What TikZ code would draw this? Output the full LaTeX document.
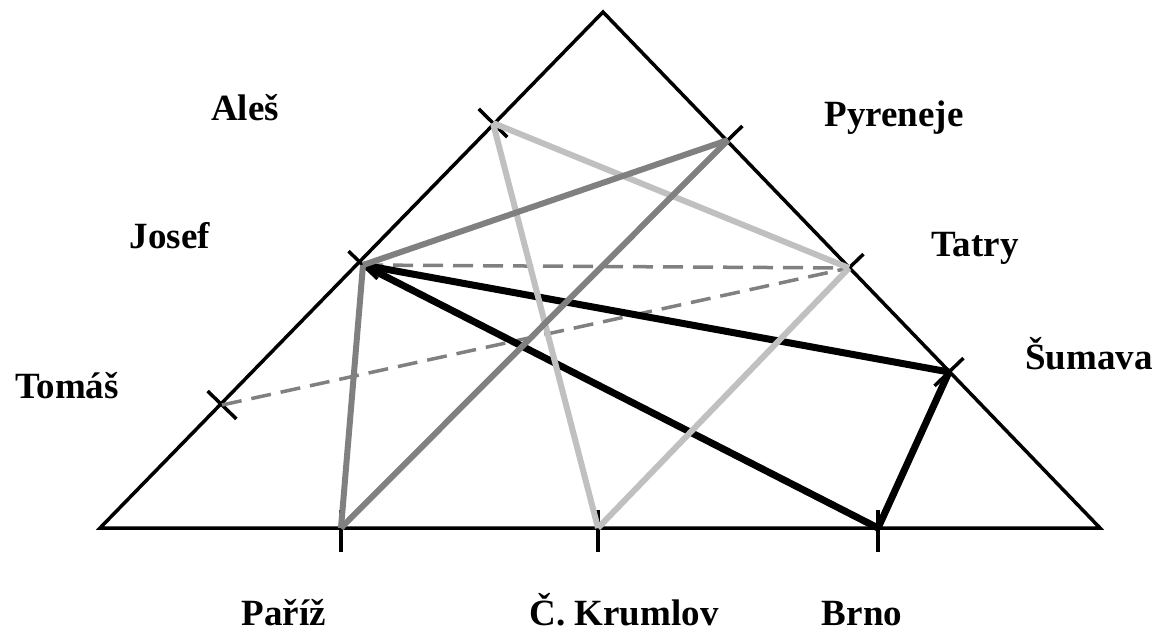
\documentclass[tikz,border=0pt]{standalone}
\usepackage{fontspec}
\setmainfont{Liberation Serif}
\usetikzlibrary{calc}
\definecolor{lgray}{HTML}{C0C0C0}
\definecolor{mgray}{HTML}{808080}
\tikzset{
  side/.style={line width=3.5pt, black},
  tickmark/.style={line width=3.5pt, black},
  lightline/.style={line width=6pt, lgray},
  midline/.style={line width=6pt, mgray},
  blackline/.style={line width=7pt, black},
  dashline/.style={line width=3.5pt, mgray, dash pattern=on 20pt off 10pt},
  lbl/.style={font=\fontsize{37}{40}\selectfont\bfseries, inner sep=0pt, anchor=base}
}
\begin{document}
\begin{tikzpicture}[x=1pt,y=-1pt]
\useasboundingbox (0,0) rectangle (1159,640);
% triangle vertices
\coordinate (L) at (100,528);
\coordinate (R) at (1100,528);
\coordinate (T) at (603,12);
% points on sides
\coordinate (ales) at (493,123);
\coordinate (josef) at (363,265);
\coordinate (tomas) at (222,405);
\coordinate (pyr) at (728,140);
\coordinate (tatry) at (849,268);
\coordinate (sum) at (949,372);
\coordinate (pariz) at (341,528);
\coordinate (krum) at (598,528);
\coordinate (brno) at (878,528);
% triangle
\draw[side] (L) -- (T) -- (R) -- cycle;
% ticks
\foreach \p in {ales,josef,tomas,pyr,tatry,sum}{
  \draw[tickmark] ($(\p)!20pt!90:(T)$) -- ($(\p)!20pt!-90:(T)$);
}
\foreach \p in {pariz,krum,brno}{
  \draw[tickmark] ($(\p)+(0,-18)$) -- ($(\p)+(0,24)$);
}
% dashed lines
\draw[dashline] (josef) -- (tatry);
\draw[dashline] (tomas) -- (tatry);
% black lines
\draw[blackline] (josef) -- (sum);
\draw[blackline] (josef) -- (brno);
\draw[blackline] (sum) -- (brno);
% light gray triangle
\draw[lightline] (ales) -- (tatry);
\draw[lightline] (ales) -- (krum);
\draw[lightline] (krum) -- (tatry);
% mid gray triangle
\draw[midline] (josef) -- (pyr);
\draw[midline] (pyr) -- (pariz);
\draw[midline] (josef) -- (pariz);
% labels
\node[lbl] (lales) at (245,120) {Aleš};
\node[lbl] (ljosef) at (170,248) {Josef};
\node[lbl] (ltomas) at (67,398) {Tomáš};
\node[lbl] (lpyr) at (894,126) {Pyreneje};
\node[lbl] (ltatry) at (975,256) {Tatry};
\node[lbl] (lsum) at (1089,369) {Šumava};
\node[lbl] (lpariz) at (284,625) {Paříž};
\node[lbl] (lkrum) at (624,625) {Č. Krumlov};
\node[lbl] (lbrno) at (862,625) {Brno};
\end{tikzpicture}
\end{document}
